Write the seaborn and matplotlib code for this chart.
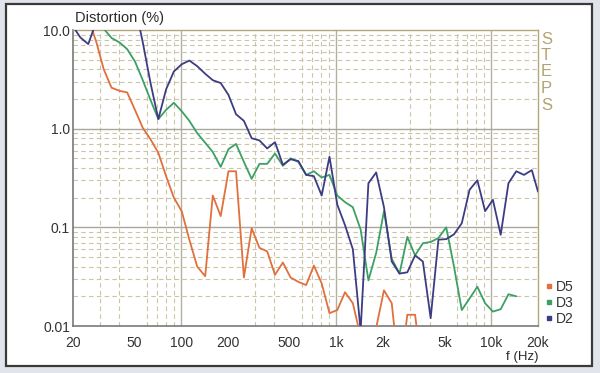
import numpy as np
import pandas as pd
import matplotlib
matplotlib.use("Agg")
import matplotlib.pyplot as plt
import seaborn as sns
from matplotlib.ticker import FixedLocator, FixedFormatter, LogLocator, NullFormatter
from matplotlib.lines import Line2D
from matplotlib.patches import Rectangle

sns.set_theme(style="white")
plt.rcParams["font.family"] = ["Liberation Sans", "DejaVu Sans"]

# 1/6-octave frequency points (Hz)
freqs = [20, 22.4, 25.2, 28.3, 31.7, 35.6, 40, 44.9, 50.4, 56.6, 63.5, 71.3, 80, 89.8,
         101, 113, 127, 143, 160, 180, 202, 226, 254, 285, 320, 359, 403, 453, 508,
         570, 640, 718, 806, 905, 1016, 1140, 1280, 1437, 1613, 1810, 2032, 2281,
         2560, 2874, 3225, 3620, 4064, 4561, 5120, 5747, 6451, 7241, 8127, 9123,
         10240, 11494, 12902, 14482, 16255, 18245, 20000]

d2 = [11, 8.4, 7.2, 12, 16, 19, 20, 20, 18, 7.5, 2.9, 1.25, 2.5, 3.8, 4.5, 4.9, 4.3,
      3.6, 3.1, 2.9, 2.2, 1.4, 1.2, 0.8, 0.76, 0.63, 0.73, 0.43, 0.49, 0.47, 0.34,
      0.33, 0.21, 0.52, 0.17, 0.105, 0.06, 0.009, 0.28, 0.36, 0.16, 0.045, 0.034,
      0.035, 0.052, 0.045, 0.012, 0.075, 0.076, 0.085, 0.11, 0.24, 0.30, 0.146,
      0.19, 0.084, 0.28, 0.37, 0.34, 0.38, 0.23]

d3 = [14, 13, 12, 11.5, 10.3, 8.3, 7.5, 6.4, 4.8, 3.1, 1.95, 1.25, 1.55, 1.83, 1.5,
      1.2, 0.9, 0.72, 0.58, 0.41, 0.62, 0.7, 0.46, 0.31, 0.44, 0.44, 0.56, 0.42, 0.5,
      0.46, 0.34, 0.37, 0.32, 0.34, 0.21, 0.18, 0.16, 0.095, 0.029, 0.055, 0.146,
      0.048, 0.034, 0.08, 0.052, 0.069, 0.071, 0.078, 0.1, 0.04, 0.0145, 0.019,
      0.025, 0.017, 0.014, 0.0148, 0.021, 0.02]

d5 = [16, 15, 13, 7.7, 4.0, 2.6, 2.42, 2.33, 1.55, 1.02, 0.78, 0.57, 0.33, 0.2, 0.145,
      0.075, 0.04, 0.032, 0.21, 0.13, 0.37, 0.37, 0.031, 0.098, 0.062, 0.057, 0.033,
      0.044, 0.031, 0.028, 0.026, 0.041, 0.027, 0.0135, 0.0145, 0.022, 0.017, 0.0078,
      0.006, 0.0096, 0.023, 0.017, 0.003, 0.013, 0.013, 0.003]

series_names = ["D5", "D3", "D2"]
colors = {"D5": "#e0703c", "D3": "#3ca064", "D2": "#3c3c84"}

x_ticks = [20, 50, 100, 200, 500, 1000, 2000, 5000, 10000, 20000]
x_tick_labels = ["20", "50", "100", "200", "500", "1k", "2k", "5k", "10k", "20k"]
y_ticks = [10, 1, 0.1, 0.01]
y_tick_labels = ["10.0", "1.0", "0.1", "0.01"]

frames = []
for name, vals in zip(series_names, (d5, d3, d2)):
    frames.append(pd.DataFrame({"f": freqs[:len(vals)], "v": vals, "s": name}))
df = pd.concat(frames, ignore_index=True)

W, H = 600, 373
fig = plt.figure(figsize=(6, 3.73), dpi=100)
fig.patch.set_facecolor("#e1e5eb")
fig.patches.append(Rectangle((6 / W, 1 - 366 / H), (592 - 6) / W, (366 - 4) / H,
                             transform=fig.transFigure, facecolor="white",
                             edgecolor="#3a3a3a", lw=1.6, zorder=-5))

ax = fig.add_axes([72.7 / W, 1 - 326 / H, (538 - 72.7) / W, (326 - 30) / H])
ax.set_zorder(2)
ax.set_facecolor("white")
ax.set_xscale("log")
ax.set_yscale("log")

sns.lineplot(data=df, x="f", y="v", hue="s", hue_order=series_names, palette=colors,
             estimator=None, sort=False, lw=1.3, legend=False, ax=ax, zorder=3)

ax.set_xlim(20, 20000)
ax.set_ylim(0.01, 10)

ax.xaxis.set_major_locator(FixedLocator(x_ticks))
ax.xaxis.set_major_formatter(FixedFormatter(x_tick_labels))
ax.yaxis.set_major_locator(FixedLocator(y_ticks))
ax.yaxis.set_major_formatter(FixedFormatter(y_tick_labels))
ax.xaxis.set_minor_locator(LogLocator(base=10, subs=np.arange(2, 10)))
ax.yaxis.set_minor_locator(LogLocator(base=10, subs=np.arange(2, 10)))
ax.xaxis.set_minor_formatter(NullFormatter())
ax.yaxis.set_minor_formatter(NullFormatter())

ax.grid(False)
ax.grid(which="minor", color="#cbc5a6", ls=(0, (4, 3)), lw=0.8, zorder=1)
for xv in (100, 1000, 10000):
    ax.axvline(xv, color="#b4b0a0", lw=1.0, zorder=1.5)
for yv in (1, 0.1):
    ax.axhline(yv, color="#a8a8a0", lw=1.0, zorder=1.5)

ax.tick_params(which="both", length=0, labelsize=10, colors="#333333")
ax.tick_params(axis="x", pad=7)
ax.tick_params(axis="y", pad=2)
ax.set_xlabel("")
ax.set_ylabel("")

for side in ("left", "bottom"):
    ax.spines[side].set_color("#6e6e6e")
    ax.spines[side].set_linewidth(1.1)
for side in ("top", "right"):
    ax.spines[side].set_color("#b3a678")
    ax.spines[side].set_linewidth(1.0)

fig.text(75 / W, 1 - 18 / H, "Distortion (%)", fontsize=10.5, color="#2a2a2a",
         ha="left", va="center")
fig.text(538 / W, 1 - 357 / H, "f (Hz)", fontsize=9.5, color="#2a2a2a",
         ha="right", va="center")
for i, ch in enumerate("STEPS"):
    fig.text(541 / W, 1 - (39 + 16.5 * i) / H, ch, fontsize=12, color="#b5a274",
             ha="left", va="center")

handles = [Line2D([], [], marker="s", ms=2.8, ls="none", color=colors[n]) for n in series_names]
ax.legend(handles, series_names, loc="upper left", bbox_to_anchor=(539 / W, 1 - 273 / H),
          bbox_transform=fig.transFigure, frameon=False, handlelength=0.4,
          handletextpad=0.35, labelspacing=0.15, fontsize=10, borderpad=0,
          labelcolor="#333333")

fig.savefig("out.png", dpi=100, facecolor=fig.get_facecolor())
